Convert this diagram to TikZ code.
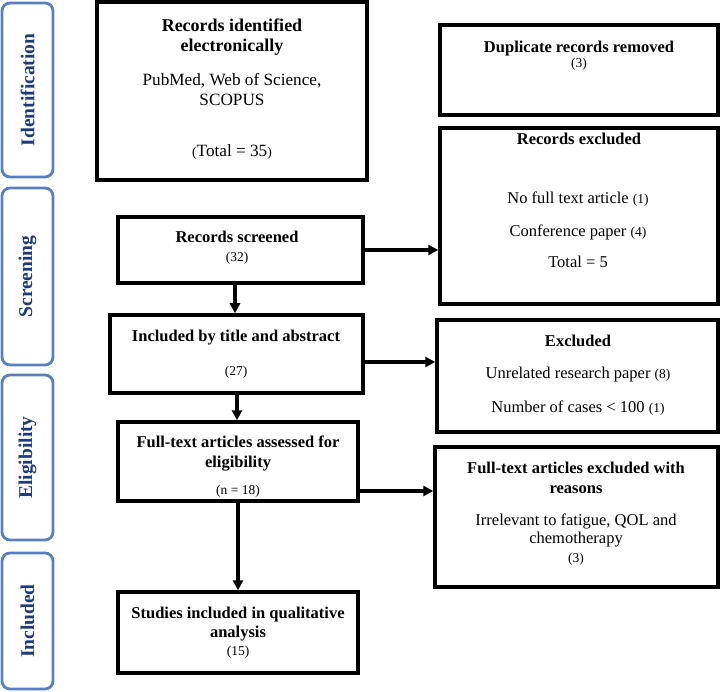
\documentclass[tikz,border=0pt]{standalone}
\usepackage{fontspec}
\setmainfont{Liberation Serif}
\usetikzlibrary{arrows.meta}
\definecolor{stageline}{HTML}{5A7FBE}
\definecolor{stagetext}{HTML}{1F3A78}
\newcommand{\pnum}[1]{{\fontsize{13.5}{15}\selectfont #1}}
\begin{document}
\begin{tikzpicture}[x=1pt,y=-1pt,
  box/.style={draw=black, line width=3.5pt, minimum width=#1, inner sep=0pt},
  stage/.style={draw=stageline, line width=2.8pt, rounded corners=8pt, minimum width=51pt, inner sep=0pt},
  stagelbl/.style={text=stagetext, font=\fontsize{19.5}{21}\selectfont\bfseries, rotate=90, anchor=center},
  tb/.style={anchor=base, font=\fontsize{16.5}{18}\selectfont\bfseries, inner sep=0pt},
  tr/.style={anchor=base, font=\fontsize{16.5}{18}\selectfont, inner sep=0pt},
  tbl/.style={anchor=base, font=\fontsize{18}{20}\selectfont\bfseries, inner sep=0pt},
  trl/.style={anchor=base, font=\fontsize{17.2}{19}\selectfont, inner sep=0pt},
  tn/.style={anchor=base, font=\fontsize{13.5}{15}\selectfont, inner sep=0pt},
  arr/.style={line width=3.5pt, -{Triangle[length=10pt,width=10pt]}}
]
\useasboundingbox (0,0) rectangle (720,692);
% stage boxes
\node[stage, minimum height=174pt] (sid) at (27.5,90) {};
\node[stage, minimum height=177pt] (ssc) at (27.5,276.5) {};
\node[stage, minimum height=165pt] (sel) at (27.5,457.5) {};
\node[stage, minimum height=136pt] (sin) at (27.5,621) {};
\node[stagelbl] (lid) at (sid.center) {Identification};
\node[stagelbl] (lsc) at (ssc.center) {Screening};
\node[stagelbl] (lel) at (sel.center) {Eligibility};
\node[stagelbl] (lin) at (sin.center) {Included};
% boxes
\node[box=270pt, minimum height=178pt] (rid) at (232,91) {};
\node[box=278pt, minimum height=90pt] (dup) at (579,70) {};
\node[box=278pt, minimum height=176pt] (rex) at (579,216) {};
\node[box=245pt, minimum height=66pt] (rsc) at (240.5,250) {};
\node[box=253pt, minimum height=78pt] (ita) at (236.5,354) {};
\node[box=281pt, minimum height=112pt] (exc) at (577.5,376) {};
\node[box=240pt, minimum height=79pt] (fta) at (238,461.5) {};
\node[box=283pt, minimum height=140pt] (fte) at (576.5,517) {};
\node[box=240pt, minimum height=81pt] (sti) at (238,632.5) {};
% texts
\node[tbl] (rid1) at (232,32) {Records identified};
\node[tbl] (rid2) at (232,52) {electronically};
\node[trl] (rid3) at (232,86) {PubMed, Web of Science,};
\node[trl] (rid4) at (232,106) {SCOPUS};
\node[trl] (rid5) at (232,157) {\pnum{(}Total = 35\pnum{)}};
\node[tb] (dup1) at (579,53) {Duplicate records removed};
\node[tn] (dup2) at (579,68) {(3)};
\node[tb] (rex1) at (579,145) {Records excluded};
\node[tr] (rex2) at (578,204) {No full text article \pnum{(1)}};
\node[tr] (rex3) at (578,237) {Conference paper \pnum{(4)}};
\node[tr] (rex4) at (578,268) {Total = 5};
\node[tb] (rsc1) at (237,243) {Records screened};
\node[tn] (rsc2) at (237,262) {(32)};
\node[tb] (ita1) at (236,342) {Included by title and abstract};
\node[tn] (ita2) at (236,375) {(27)};
\node[tb] (exc1) at (578,347) {Excluded};
\node[tr] (exc2) at (578,378) {Unrelated research paper \pnum{(8)}};
\node[tr] (exc3) at (578,412) {Number of cases < 100 \pnum{(1)}};
\node[tb] (fta1) at (238,447) {Full-text articles assessed for};
\node[tb] (fta2) at (238,467) {eligibility};
\node[tn] (fta3) at (238,494) {(n = 18)};
\node[tb] (fte1) at (576,473) {Full-text articles excluded with};
\node[tb] (fte2) at (576,493) {reasons};
\node[tr] (fte3) at (576,525) {Irrelevant to fatigue, QOL and};
\node[tr] (fte4) at (576,543) {chemotherapy};
\node[tn] (fte5) at (576,562) {(3)};
\node[tb] (sti1) at (238,618) {Studies included in qualitative};
\node[tb] (sti2) at (238,637) {analysis};
\node[tn] (sti3) at (238,655) {(15)};
% arrows
\draw[arr] (rsc.east) -- (rsc.east -| rex.west);
\draw[arr] (ita.east |- 0,362) -- (exc.west |- 0,362);
\draw[arr] (fta.east |- 0,491) -- (fte.west |- 0,491);
\draw[arr] (rsc.south -| 235,0) -- (ita.north -| 235,0);
\draw[arr] (ita.south -| 237,0) -- (fta.north -| 237,0);
\draw[arr] (fta.south -| 238,0) -- (sti.north -| 238,0);
\end{tikzpicture}
\end{document}
